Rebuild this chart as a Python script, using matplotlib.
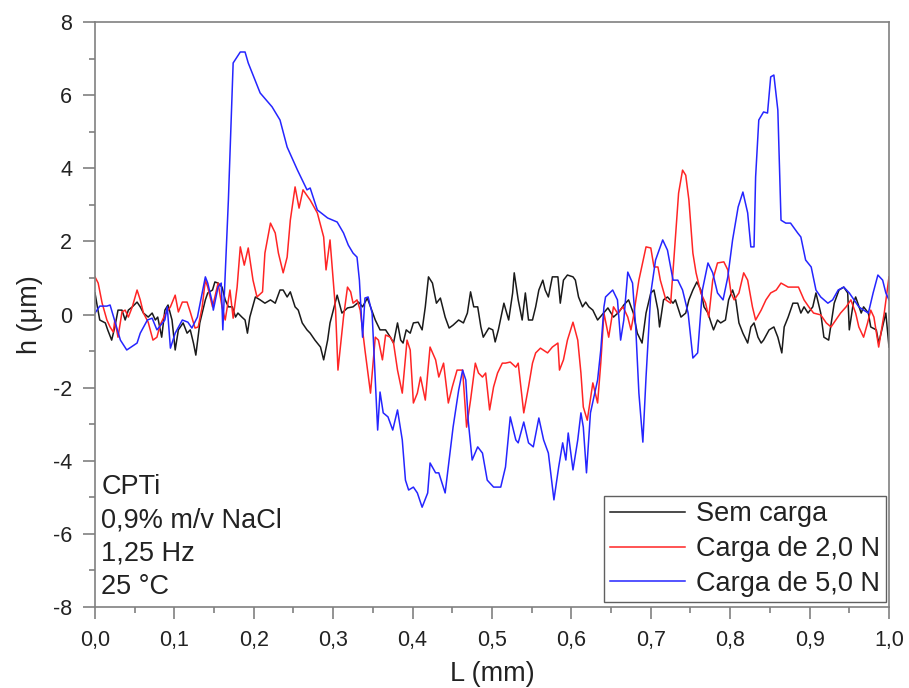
import matplotlib
matplotlib.use("Agg")
import matplotlib.pyplot as plt
from matplotlib.ticker import MultipleLocator, FuncFormatter

plt.rcParams['font.family'] = ['Liberation Sans', 'DejaVu Sans']
plt.rcParams['axes.unicode_minus'] = False

# Perfis de rugosidade: L (mm) x h (um)
L_sem = [0.000, 0.003, 0.006, 0.013, 0.016, 0.021, 0.025, 0.029, 0.034, 0.038, 0.042, 0.047, 0.053,
         0.057, 0.061, 0.067, 0.072, 0.076, 0.079, 0.084, 0.088, 0.092, 0.097, 0.101, 0.105, 0.111,
         0.116, 0.120, 0.124, 0.127, 0.132, 0.139, 0.142, 0.148, 0.151, 0.155, 0.160, 0.164, 0.168,
         0.173, 0.177, 0.180, 0.185, 0.189, 0.192, 0.195, 0.202, 0.208, 0.214, 0.221, 0.227, 0.233,
         0.237, 0.242, 0.246, 0.252, 0.256, 0.261, 0.267, 0.271, 0.277, 0.284, 0.288, 0.293, 0.296,
         0.305, 0.311, 0.318, 0.325, 0.332, 0.337, 0.343, 0.347, 0.353, 0.359, 0.366, 0.372, 0.376,
         0.381, 0.385, 0.388, 0.392, 0.397, 0.401, 0.407, 0.412, 0.416, 0.420, 0.425, 0.430, 0.435,
         0.441, 0.446, 0.451, 0.458, 0.464, 0.469, 0.473, 0.477, 0.482, 0.486, 0.489, 0.496, 0.501,
         0.504, 0.508, 0.515, 0.521, 0.526, 0.528, 0.533, 0.538, 0.542, 0.546, 0.551, 0.555, 0.559,
         0.564, 0.567, 0.571, 0.576, 0.583, 0.586, 0.590, 0.595, 0.602, 0.605, 0.609, 0.614, 0.618,
         0.622, 0.627, 0.633, 0.646, 0.653, 0.660, 0.666, 0.672, 0.678, 0.683, 0.689, 0.694, 0.700,
         0.704, 0.709, 0.711, 0.716, 0.721, 0.728, 0.731, 0.738, 0.744, 0.748, 0.753, 0.758, 0.763,
         0.767, 0.772, 0.776, 0.779, 0.784, 0.788, 0.794, 0.798, 0.803, 0.807, 0.811, 0.816, 0.822,
         0.826, 0.830, 0.835, 0.839, 0.842, 0.849, 0.855, 0.860, 0.865, 0.868, 0.873, 0.879, 0.885,
         0.889, 0.893, 0.898, 0.904, 0.908, 0.914, 0.918, 0.924, 0.931, 0.937, 0.943, 0.948, 0.950,
         0.955, 0.958, 0.965, 0.968, 0.974, 0.977, 0.984, 0.987, 0.994, 0.996, 1.000]
h_sem = [0.59, 0.21, -0.15, -0.23, -0.42, -0.70, -0.34, 0.12, 0.12, -0.15, 0.12, 0.21, 0.34,
         0.21, 0.04, -0.07, 0.04, -0.15, -0.07, -0.62, 0.12, 0.26, -0.15, -0.97, -0.42, -0.23,
         -0.51, -0.42, -0.78, -1.11, -0.23, 0.40, 0.59, 0.67, 0.89, 0.86, 0.75, 0.40, 0.21,
         0.21, -0.07, 0.04, -0.07, -0.15, -0.51, -0.07, 0.48, 0.40, 0.31, 0.40, 0.31, 0.67,
         0.67, 0.48, 0.62, 0.21, 0.12, -0.23, -0.42, -0.51, -0.70, -0.89, -1.24, -0.70, -0.23,
         0.53, 0.04, 0.18, 0.21, 0.34, 0.21, 0.45, 0.21, -0.15, -0.42, -0.42, -0.62, -0.78,
         -0.23, -0.70, -0.78, -0.42, -0.51, -0.23, -0.21, -0.42, 0.21, 1.03, 0.86, 0.31, 0.45,
         -0.07, -0.37, -0.29, -0.15, -0.23, 0.04, 0.62, 0.21, 0.21, -0.34, -0.62, -0.37, -0.42,
         -0.75, -0.42, 0.31, -0.15, 0.59, 1.14, 0.40, -0.15, 0.59, -0.15, -0.15, 0.21, 0.67,
         0.94, 0.67, 0.48, 1.03, 1.03, 0.31, 0.94, 1.08, 1.03, 0.94, 0.48, 0.21, 0.34,
         0.21, 0.12, -0.15, 0.18, -0.07, 0.07, 0.26, 0.40, 0.04, -0.51, -0.78, 0.04, 0.59,
         0.67, 0.12, -0.34, 0.40, 0.48, 0.31, 0.40, -0.07, 0.04, 0.40, 0.67, 0.89, 0.67,
         0.21, 0.04, -0.23, -0.42, -0.15, -0.23, -0.15, 0.40, 0.67, 0.40, -0.23, -0.51, -0.78,
         -0.34, -0.23, -0.62, -0.78, -0.70, -0.42, -0.34, -0.62, -1.05, -0.34, -0.07, 0.31, 0.31,
         0.04, 0.21, 0.04, 0.21, 0.59, 0.04, -0.62, -0.70, 0.31, 0.67, 0.75, 0.59, -0.42,
         0.31, 0.48, 0.04, 0.21, 0.04, -0.34, -0.42, -0.78, -0.15, 0.04, -0.89]

L_2N = [0.000, 0.004, 0.009, 0.015, 0.019, 0.023, 0.025, 0.029, 0.034, 0.038, 0.042, 0.047, 0.053,
        0.057, 0.061, 0.067, 0.073, 0.078, 0.082, 0.088, 0.095, 0.101, 0.105, 0.110, 0.116, 0.120,
        0.126, 0.130, 0.135, 0.139, 0.142, 0.148, 0.151, 0.155, 0.160, 0.164, 0.170, 0.174, 0.179,
        0.183, 0.188, 0.193, 0.199, 0.204, 0.211, 0.214, 0.221, 0.227, 0.231, 0.237, 0.242, 0.246,
        0.252, 0.257, 0.262, 0.271, 0.280, 0.288, 0.291, 0.296, 0.303, 0.306, 0.313, 0.318, 0.322,
        0.325, 0.330, 0.334, 0.340, 0.347, 0.353, 0.357, 0.362, 0.366, 0.372, 0.376, 0.381, 0.387,
        0.393, 0.397, 0.401, 0.406, 0.410, 0.416, 0.422, 0.429, 0.433, 0.439, 0.445, 0.450, 0.456,
        0.463, 0.468, 0.473, 0.479, 0.483, 0.488, 0.492, 0.497, 0.502, 0.507, 0.513, 0.517, 0.523,
        0.530, 0.533, 0.540, 0.546, 0.551, 0.555, 0.561, 0.570, 0.576, 0.583, 0.585, 0.590, 0.595,
        0.602, 0.608, 0.612, 0.615, 0.620, 0.627, 0.633, 0.637, 0.641, 0.647, 0.653, 0.658, 0.665,
        0.671, 0.675, 0.678, 0.685, 0.694, 0.700, 0.704, 0.709, 0.712, 0.719, 0.725, 0.729, 0.735,
        0.740, 0.744, 0.748, 0.753, 0.757, 0.763, 0.769, 0.773, 0.778, 0.784, 0.792, 0.797, 0.801,
        0.805, 0.811, 0.817, 0.822, 0.828, 0.832, 0.839, 0.845, 0.851, 0.858, 0.864, 0.873, 0.880,
        0.886, 0.893, 0.899, 0.905, 0.914, 0.921, 0.927, 0.933, 0.939, 0.946, 0.952, 0.958, 0.962,
        0.968, 0.973, 0.977, 0.981, 0.987, 0.994, 1.000]
h_2N = [1.03, 0.86, 0.31, -0.15, -0.34, -0.48, -0.15, -0.62, 0.07, 0.12, -0.07, 0.21, 0.67,
        0.40, 0.04, -0.21, -0.70, -0.62, -0.29, -0.01, 0.21, 0.53, 0.07, 0.34, 0.34, 0.07,
        -0.37, -0.34, 0.21, 0.94, 0.75, 0.21, 0.48, 0.86, 0.21, -0.15, 0.67, -0.10, 0.75,
        1.85, 1.35, 1.82, 0.94, 0.48, 0.62, 1.68, 2.50, 2.23, 1.68, 1.14, 1.57, 2.58,
        3.49, 2.91, 3.41, 3.13, 2.78, 2.12, 1.22, 2.04, 0.12, -1.52, -0.07, 0.75, 0.62,
        0.31, 0.40, 0.12, -0.97, -2.15, -0.62, -0.70, -1.24, -0.56, -0.62, -0.78, -1.52, -2.15,
        -0.70, -0.97, -2.42, -2.15, -1.71, -2.34, -0.89, -1.24, -1.71, -1.33, -2.42, -1.98, -1.52,
        -1.52, -3.08, -2.34, -1.33, -1.60, -1.71, -1.60, -2.61, -1.98, -1.60, -1.33, -1.33, -1.30,
        -1.44, -1.33, -2.69, -1.98, -1.33, -1.05, -0.92, -1.05, -0.89, -0.78, -1.52, -1.24, -0.70,
        -0.21, -0.70, -1.60, -2.53, -2.89, -1.87, -2.42, -1.33, 0.04, -0.62, 0.21, 0.04, 0.21,
        -0.07, -0.42, -0.07, 0.94, 1.85, 1.82, 1.30, 1.30, 0.94, 0.40, 0.31, 1.49, 3.32,
        3.95, 3.81, 3.13, 1.68, 1.14, 0.59, 0.31, -0.07, 0.94, 1.41, 1.44, 1.22, 0.59,
        0.40, 0.59, 1.14, 0.94, 0.21, -0.15, 0.12, 0.40, 0.59, 0.67, 0.86, 0.75, 0.75,
        0.75, 0.40, 0.21, 0.04, -0.01, -0.23, -0.34, -0.15, 0.04, 0.21, 0.40, 0.04, -0.34,
        -0.62, -0.23, 0.12, -0.07, -0.89, 0.04, 1.03]

L_5N = [0.000, 0.006, 0.015, 0.019, 0.032, 0.040, 0.053, 0.057, 0.066, 0.072, 0.078, 0.088, 0.091,
        0.095, 0.101, 0.110, 0.117, 0.122, 0.129, 0.135, 0.139, 0.142, 0.148, 0.149, 0.155, 0.159,
        0.161, 0.168, 0.174, 0.183, 0.189, 0.193, 0.208, 0.223, 0.233, 0.242, 0.255, 0.267, 0.271,
        0.280, 0.293, 0.305, 0.313, 0.319, 0.325, 0.330, 0.333, 0.337, 0.340, 0.344, 0.349, 0.353,
        0.356, 0.359, 0.363, 0.369, 0.375, 0.381, 0.387, 0.391, 0.395, 0.401, 0.406, 0.412, 0.419,
        0.422, 0.429, 0.433, 0.441, 0.445, 0.451, 0.458, 0.463, 0.467, 0.470, 0.475, 0.482, 0.488,
        0.494, 0.502, 0.511, 0.517, 0.523, 0.530, 0.533, 0.540, 0.546, 0.552, 0.559, 0.565, 0.571,
        0.578, 0.584, 0.589, 0.593, 0.596, 0.602, 0.608, 0.612, 0.615, 0.619, 0.624, 0.633, 0.637,
        0.641, 0.643, 0.652, 0.658, 0.662, 0.666, 0.671, 0.677, 0.681, 0.685, 0.690, 0.694, 0.700,
        0.706, 0.715, 0.721, 0.728, 0.734, 0.740, 0.747, 0.753, 0.759, 0.765, 0.772, 0.778, 0.784,
        0.791, 0.797, 0.803, 0.810, 0.816, 0.822, 0.826, 0.830, 0.832, 0.836, 0.842, 0.847, 0.851,
        0.855, 0.860, 0.864, 0.870, 0.876, 0.885, 0.889, 0.895, 0.902, 0.908, 0.914, 0.923, 0.929,
        0.936, 0.943, 0.950, 0.956, 0.962, 0.968, 0.974, 0.980, 0.986, 0.992, 0.996, 1.000]
h_5N = [0.04, 0.23, 0.23, 0.26, -0.70, -0.97, -0.78, -0.51, -0.15, -0.10, -0.42, -0.15, 0.21,
        -0.92, -0.51, -0.15, -0.21, -0.37, -0.07, 0.59, 1.03, 0.86, 0.31, 0.12, 0.75, 0.86,
        -0.42, 3.13, 6.88, 7.18, 7.18, 6.88, 6.06, 5.68, 5.32, 4.58, 3.95, 3.41, 3.46,
        2.86, 2.64, 2.53, 2.23, 1.90, 1.68, 1.57, 0.94, -0.62, 0.45, 0.48, 0.04, -1.79,
        -3.16, -2.12, -2.69, -2.80, -3.16, -2.61, -3.43, -4.53, -4.80, -4.72, -4.88, -5.27, -4.88,
        -4.06, -4.33, -4.33, -4.88, -4.17, -3.08, -2.07, -1.52, -1.79, -2.89, -3.98, -3.62, -3.79,
        -4.53, -4.72, -4.72, -4.17, -2.80, -3.43, -3.51, -2.94, -3.51, -3.62, -2.83, -3.43, -3.79,
        -5.07, -4.17, -3.51, -3.98, -3.24, -4.25, -3.43, -2.69, -3.08, -4.33, -2.69, -1.79, -0.97,
        0.21, 0.48, 0.67, 0.40, -0.70, -0.15, 1.16, 0.86, -0.34, -2.15, -3.49, -1.71, 0.59,
        1.49, 2.04, 1.76, 0.94, 0.94, 0.67, 0.04, -1.19, -1.05, 0.67, 1.41, 1.14, 0.59,
        0.40, 1.03, 2.04, 2.94, 3.35, 2.78, 1.85, 1.85, 3.76, 5.32, 5.54, 5.51, 6.50,
        6.55, 5.59, 2.58, 2.50, 2.50, 2.23, 2.12, 1.49, 1.30, 0.67, 0.48, 0.31, 0.40,
        0.67, 0.75, 0.59, 0.40, 0.21, 0.12, 0.04, 0.59, 1.08, 0.94, 0.59, 0.40]

fig = plt.figure(figsize=(9.09, 6.88), dpi=100)
ax = fig.add_axes([0.1045, 0.1177, 0.8735, 0.8503])

ax.plot(L_sem, h_sem, color='#1a1a1a', lw=1.1, label='Sem carga')
ax.plot(L_2N, h_2N, color='#ff2525', lw=1.1, label='Carga de 2,0 N')
ax.plot(L_5N, h_5N, color='#2525ff', lw=1.1, label='Carga de 5,0 N')

ax.set_xlim(0, 1.0)
ax.set_ylim(-8, 8)
ax.xaxis.set_major_locator(MultipleLocator(0.1))
ax.xaxis.set_minor_locator(MultipleLocator(0.05))
ax.yaxis.set_major_locator(MultipleLocator(2))
ax.yaxis.set_minor_locator(MultipleLocator(1))
ax.xaxis.set_major_formatter(FuncFormatter(lambda v, p: f"{v:.1f}".replace('.', ',')))
ax.yaxis.set_major_formatter(FuncFormatter(lambda v, p: f"{v:.0f}"))

for s in ax.spines.values():
    s.set_color('#808080')
    s.set_linewidth(1.2)
ax.tick_params(which='both', direction='out', color='#808080', width=1.2,
               top=False, right=False, labelsize=15.5, labelcolor='#222222')
ax.tick_params(which='major', length=8.5)
ax.tick_params(which='minor', length=4)
ax.tick_params(axis='x', pad=8)
ax.tick_params(axis='y', pad=8)

ax.set_xlabel('L (mm)', fontsize=19.5, color='#222222')
ax.set_ylabel('h (μm)', fontsize=19.5, color='#222222')
ax.xaxis.set_label_coords(0.5, -0.093)
ax.yaxis.set_label_coords(-0.066, 0.5)

ax.text(0.008, 0.012, 'CPTi\n0,9% m/v NaCl\n1,25 Hz\n25 °C', transform=ax.transAxes,
        ha='left', va='bottom', fontsize=19.5, color='#222222', linespacing=1.36)

leg = ax.legend(loc='lower right', bbox_to_anchor=(0.996, 0.008), fontsize=19.5,
                frameon=True, fancybox=False, framealpha=1, edgecolor='#606060',
                handlelength=2.8, handletextpad=0.4, labelspacing=0.33, borderpad=0.2,
                borderaxespad=0)
leg.get_frame().set_linewidth(1.0)
for t in leg.get_texts():
    t.set_color('#222222')

fig.savefig('out.png', dpi=100)
